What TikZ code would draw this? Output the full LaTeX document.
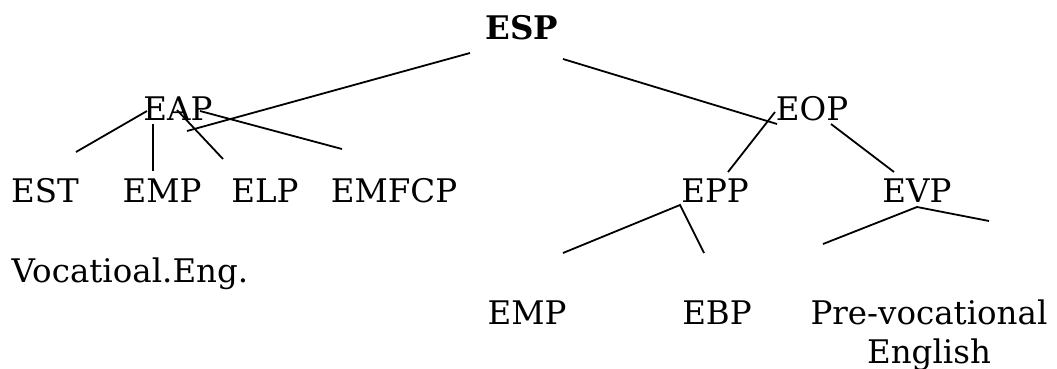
\documentclass[tikz,border=0pt]{standalone}
\usepackage{fontspec}
\setmainfont{DejaVu Serif}
\begin{document}
\begin{tikzpicture}[x=1pt,y=-1pt,
    lbl/.style={inner sep=0pt,anchor=base,font=\fontsize{32.5}{39}\selectfont},
    branch/.style={line width=1.8pt}]
\useasboundingbox (0,0) rectangle (1057,369);
% labels
\node[lbl,font=\fontsize{32.5}{39}\selectfont\bfseries] (esp) at (522,40) {ESP};
\node[lbl] (eap) at (178,120) {EAP};
\node[lbl] (eop) at (812,120) {EOP};
\node[lbl] (est) at (45,202) {EST};
\node[lbl] (emp) at (162,202) {EMP};
\node[lbl] (elp) at (265,202) {ELP};
\node[lbl] (emfcp) at (394,202) {EMFCP};
\node[lbl] (epp) at (715,202) {EPP};
\node[lbl] (evp) at (917,202) {EVP};
\node[lbl] (voc) at (130,282) {Vocatioal.Eng.};
\node[lbl] (empb) at (527,324) {EMP};
\node[lbl] (ebp) at (717,324) {EBP};
% two-line label: base anchor sits on its last line
\node[lbl,align=center] (pve) at (929,363) {Pre-vocational\\English};
% branch end points
\coordinate (espL) at (470,53);  \coordinate (eapR) at (187,131);
\coordinate (espR) at (563,59);  \coordinate (eopL) at (777,124);
\coordinate (eapA) at (147,111); \coordinate (estT) at (76,152);
\coordinate (eapB) at (153,124); \coordinate (empT) at (153,171);
\coordinate (eapC) at (177,110); \coordinate (elpT) at (223,159);
\coordinate (eapD) at (200,111); \coordinate (emfT) at (342,149);
\coordinate (eopA) at (775,112); \coordinate (eppT) at (728,172);
\coordinate (eopB) at (831,124); \coordinate (evpT) at (894,172);
\coordinate (eppA) at (680,205); \coordinate (eppL) at (563,253); \coordinate (eppR) at (704,253);
\coordinate (evpA) at (917,207); \coordinate (evpL) at (823,244); \coordinate (evpR) at (989,221);
% branches
\draw[branch] (espL) -- (eapR);
\draw[branch] (espR) -- (eopL);
\draw[branch] (eapA) -- (estT);
\draw[branch] (eapB) -- (empT);
\draw[branch] (eapC) -- (elpT);
\draw[branch] (eapD) -- (emfT);
\draw[branch] (eopA) -- (eppT);
\draw[branch] (eopB) -- (evpT);
\draw[branch] (eppL) -- (eppA) -- (eppR);
\draw[branch] (evpL) -- (evpA) -- (evpR);
\end{tikzpicture}
\end{document}
